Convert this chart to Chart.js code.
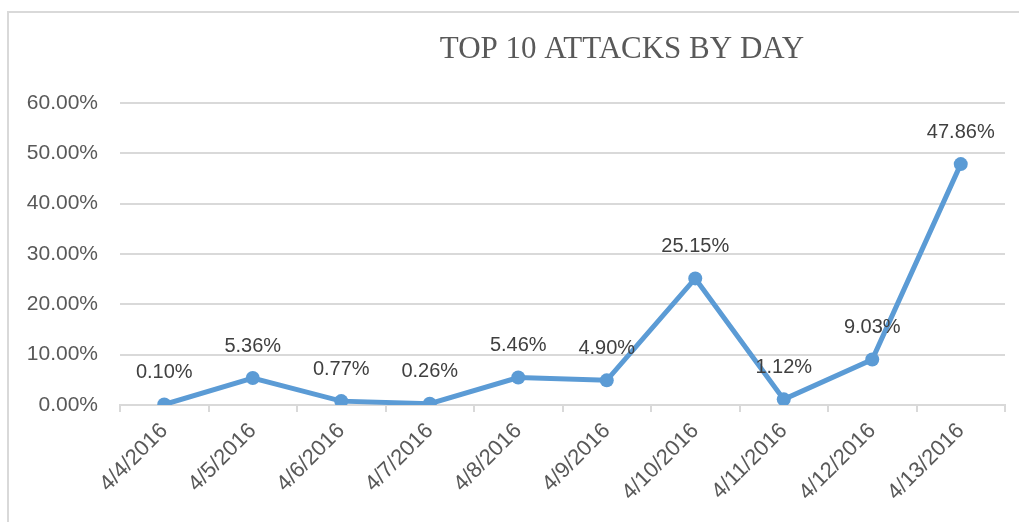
<!DOCTYPE html>
<html>
<head>
<meta charset="utf-8">
<title>Top 10 Attacks by Day</title>
<script src="https://cdn.jsdelivr.net/npm/chart.js@4/dist/chart.umd.min.js"></script>
<style>
  html, body { margin: 0; padding: 0; background: #fff; }
  #wrap { position: relative; width: 1019px; height: 522px; overflow: hidden; }
  #frame {
    position: absolute; left: 7px; top: 11px; width: 1200px; height: 700px;
    border-left: 2px solid #d9d9d9; border-top: 2px solid #d9d9d9;
  }
  canvas { position: absolute; left: 0; top: 0; }
</style>
</head>
<body>
<div id="wrap">
  <div id="frame"></div>
  <canvas id="attacksChart" width="1019" height="522"></canvas>
</div>
<script>
// ── Data ─────────────────────────────────────────────────────
const DAYS = ['4/4/2016', '4/5/2016', '4/6/2016', '4/7/2016', '4/8/2016',
              '4/9/2016', '4/10/2016', '4/11/2016', '4/12/2016', '4/13/2016'];
const SHARE_PCT = [0.10, 5.36, 0.77, 0.26, 5.46, 4.90, 25.15, 1.12, 9.03, 47.86];
const Y_MAX = 60;
const Y_STEP = 10;
const TITLE = 'TOP 10 ATTACKS BY DAY';

const LINE_BLUE = '#5b9bd5';
const GRID_GREY = '#d9d9d9';
const LABEL_FONT = '"Liberation Sans", Arial, sans-serif';

const pct = v => Number(v).toFixed(2) + '%';

// ── Plugins ──────────────────────────────────────────────────

// value labels sitting above each point
const pointLabels = {
  id: 'pointLabels',
  afterDatasetsDraw(chart) {
    const { ctx } = chart;
    const meta = chart.getDatasetMeta(0);
    ctx.save();
    ctx.font = '20px ' + LABEL_FONT;
    ctx.fillStyle = '#404040';
    ctx.textAlign = 'center';
    ctx.textBaseline = 'middle';
    meta.data.forEach((pt, i) => {
      ctx.fillText(pct(SHARE_PCT[i]), pt.x, pt.y - 32);
    });
    ctx.restore();
  }
};

// serif title, offset right of centre like the workbook chart
const serifTitle = {
  id: 'serifTitle',
  afterDraw(chart) {
    const { ctx } = chart;
    ctx.save();
    ctx.font = '31px "Liberation Serif", "Times New Roman", serif';
    ctx.fillStyle = '#595959';
    ctx.textAlign = 'center';
    ctx.textBaseline = 'middle';
    ctx.fillText(TITLE, 622, 50);
    ctx.restore();
  }
};

// ── Chart ────────────────────────────────────────────────────
new Chart(document.getElementById('attacksChart'), {
  type: 'line',
  data: {
    labels: DAYS,
    datasets: [{
      data: SHARE_PCT,
      borderColor: LINE_BLUE,
      backgroundColor: LINE_BLUE,
      borderWidth: 5,
      pointRadius: 7,
      pointHoverRadius: 7,
      pointBackgroundColor: LINE_BLUE,
      pointBorderWidth: 0,
      tension: 0,
      fill: false,
    }],
  },
  options: {
    responsive: false,
    animation: false,
    devicePixelRatio: 1,
    layout: { padding: { top: 103, right: 14, left: 0, bottom: 0 } },
    plugins: {
      legend: { display: false },
      title: { display: false },
      tooltip: { enabled: false },
    },
    scales: {
      x: {
        offset: true,
        afterFit(scale) { scale.height = 117; },
        grid: {
          offset: true,
          drawOnChartArea: false,
          drawTicks: true,
          tickLength: 7,
          color: GRID_GREY,
          lineWidth: 2,
        },
        border: { display: true, color: GRID_GREY, width: 2 },
        ticks: {
          color: '#595959',
          font: { family: LABEL_FONT, size: 22 },
          maxRotation: 45,
          minRotation: 45,
          padding: 6,
          autoSkip: false,
        },
      },
      y: {
        min: 0,
        max: Y_MAX,
        afterFit(scale) { scale.width = 120; },
        grid: { color: GRID_GREY, lineWidth: 2, drawTicks: false },
        border: { display: false },
        ticks: {
          stepSize: Y_STEP,
          color: '#595959',
          font: { family: LABEL_FONT, size: 21 },
          padding: 22,
          callback: v => pct(v),
        },
      },
    },
  },
  plugins: [pointLabels, serifTitle],
});
</script>
</body>
</html>
